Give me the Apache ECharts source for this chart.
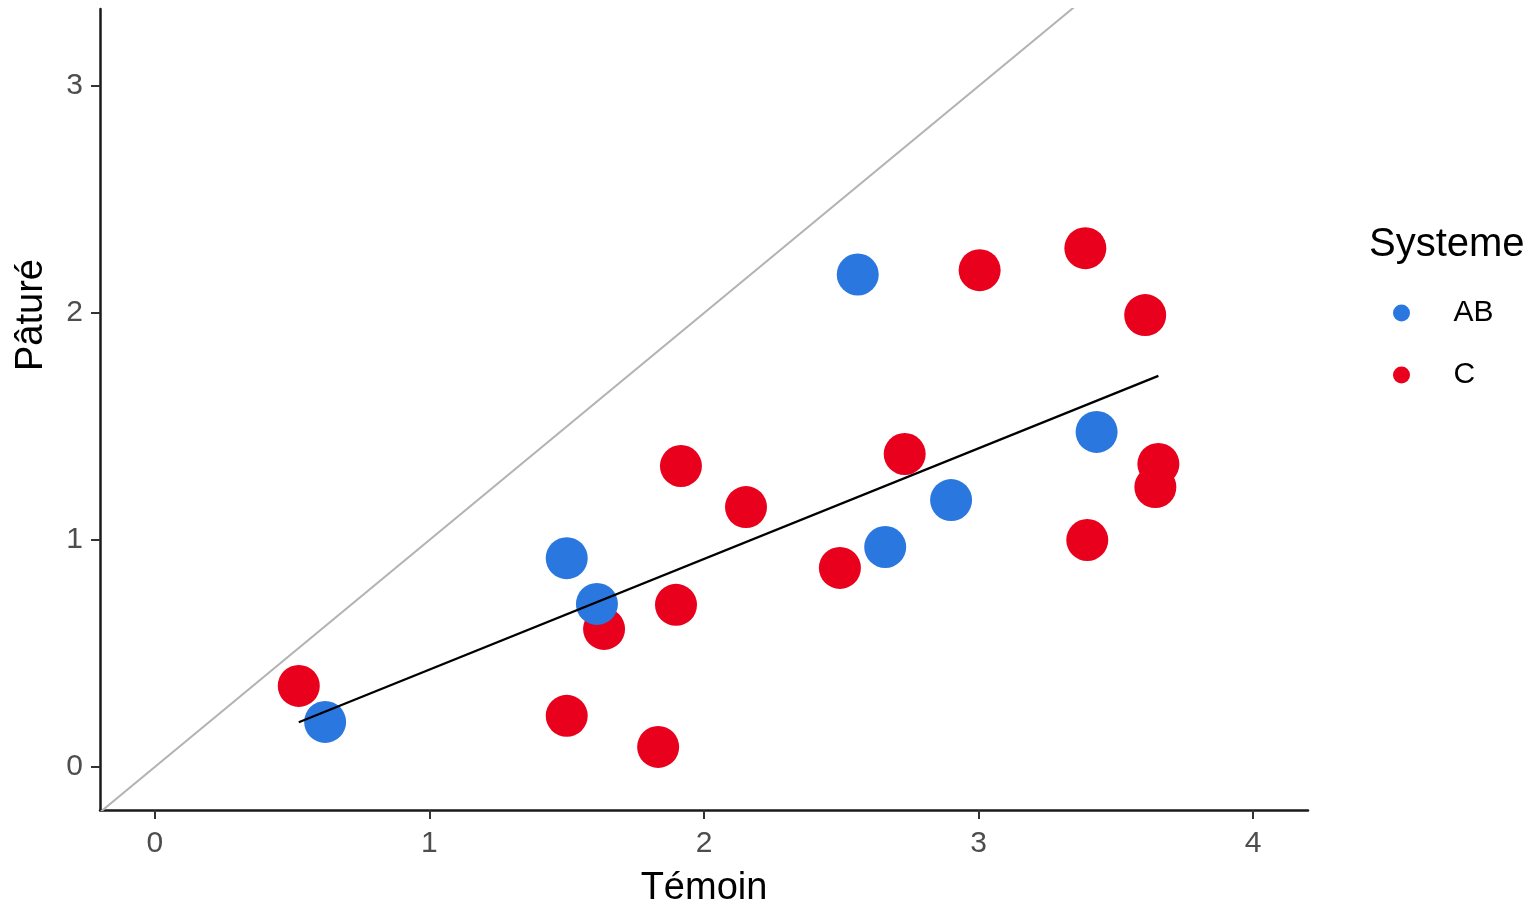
<!DOCTYPE html>
<html>
<head>
<meta charset="utf-8">
<script src="https://cdn.jsdelivr.net/npm/echarts@6/dist/echarts.min.js"></script>
<style>html,body{margin:0;padding:0;background:#fff;}#c{width:1529px;height:904px;}</style>
</head>
<body>
<div id="c"></div>
<script>
// ---- data ----
const groups = ['AB', 'C'];
const abX = [0.62, 1.50, 1.61, 2.56, 2.66, 2.90, 3.43];
const abY = [0.198, 0.92, 0.718, 2.17, 0.969, 1.176, 1.476];
const cX = [0.524, 1.50, 1.636, 1.833, 1.898, 1.916, 2.153, 2.495, 2.731, 3.004, 3.389, 3.396, 3.607, 3.644, 3.655];
const cY = [0.357, 0.225, 0.608, 0.088, 0.714, 1.326, 1.145, 0.877, 1.379, 2.189, 2.286, 1.0, 1.991, 1.233, 1.335];
const xTicks = [0, 1, 2, 3, 4];
const yTicks = [0, 1, 2, 3];
const xRange = [-0.2, 4.2];
const yRange = [-0.19, 3.34];

// ---- derived ----
const zip = (xs, ys) => xs.map((x, i) => [x, ys[i]]);
const allX = abX.concat(cX), allY = abY.concat(cY);
const n = allX.length;
const mx = allX.reduce((a, b) => a + b, 0) / n;
const my = allY.reduce((a, b) => a + b, 0) / n;
let sxy = 0, sxx = 0;
for (let i = 0; i < n; i++) { sxy += (allX[i] - mx) * (allY[i] - my); sxx += (allX[i] - mx) ** 2; }
const slope = sxy / sxx, icpt = my - slope * mx;
const x0 = Math.min(...allX), x1 = Math.max(...allX);
const fitLine = [[x0, icpt + slope * x0], [x1, icpt + slope * x1]];
const idLine = [[xRange[0], xRange[0]], [xRange[1], xRange[1]]];

const FONT = '"Liberation Sans", Arial, Helvetica, sans-serif';
const chart = echarts.init(document.getElementById('c'));
chart.setOption({
  animation: false,
  backgroundColor: '#fff',
  grid: { left: 100, right: 221, top: 9, bottom: 94, containLabel: false, outerBoundsMode: 'none' },
  title: {
    text: 'Systeme', left: 1369, top: 225, padding: 0,
    textStyle: { fontFamily: FONT, fontSize: 40, fontWeight: 'normal', color: '#000' }
  },
  legend: {
    data: groups, orient: 'vertical', left: 1393, top: 298, padding: 0,
    icon: 'circle', itemWidth: 94, itemHeight: 17, itemGap: 32,
    textStyle: { fontFamily: FONT, fontSize: 30, color: '#000' }
  },
  xAxis: {
    type: 'value', min: xRange[0], max: xRange[1],
    name: 'Témoin', nameLocation: 'middle', nameGap: 60,
    nameTextStyle: { fontFamily: FONT, fontSize: 38, color: '#000' },
    axisLine: { show: true, onZero: false, lineStyle: { color: '#1a1a1a', width: 2.5 } },
    axisTick: { show: true, length: 9, lineStyle: { color: '#333', width: 2 }, customValues: xTicks },
    axisLabel: { fontFamily: FONT, fontSize: 30, color: '#4d4d4d', margin: 19, customValues: xTicks },
    splitLine: { show: false }
  },
  yAxis: {
    type: 'value', min: yRange[0], max: yRange[1],
    axisLine: { show: true, onZero: false, lineStyle: { color: '#1a1a1a', width: 2.5 } },
    axisTick: { show: true, length: 9, lineStyle: { color: '#333', width: 2 }, customValues: yTicks },
    axisLabel: { fontFamily: FONT, fontSize: 30, color: '#4d4d4d', margin: 17, customValues: yTicks },
    splitLine: { show: false }
  },
  graphic: [{
    type: 'text', x: 32, y: 315, rotation: Math.PI / 2,
    style: { text: 'Pâturé', font: '38px ' + FONT, fill: '#000',
      textAlign: 'center', textVerticalAlign: 'middle', align: 'center', verticalAlign: 'middle' }
  }],
  series: [
    { type: 'line', data: idLine, showSymbol: false, clip: true, silent: true,
      lineStyle: { color: '#b3b3b3', width: 2 }, z: 1 },
    { name: 'C', type: 'scatter', data: zip(cX, cY), symbolSize: 42,
      itemStyle: { color: '#e8001d', opacity: 1 }, z: 2 },
    { name: 'AB', type: 'scatter', data: zip(abX, abY), symbolSize: 42,
      itemStyle: { color: '#2a77e0', opacity: 1 }, z: 3 },
    { type: 'line', data: fitLine, showSymbol: false, silent: true,
      lineStyle: { color: '#000', width: 2.3 }, z: 4 }
  ]
});
</script>
</body>
</html>
